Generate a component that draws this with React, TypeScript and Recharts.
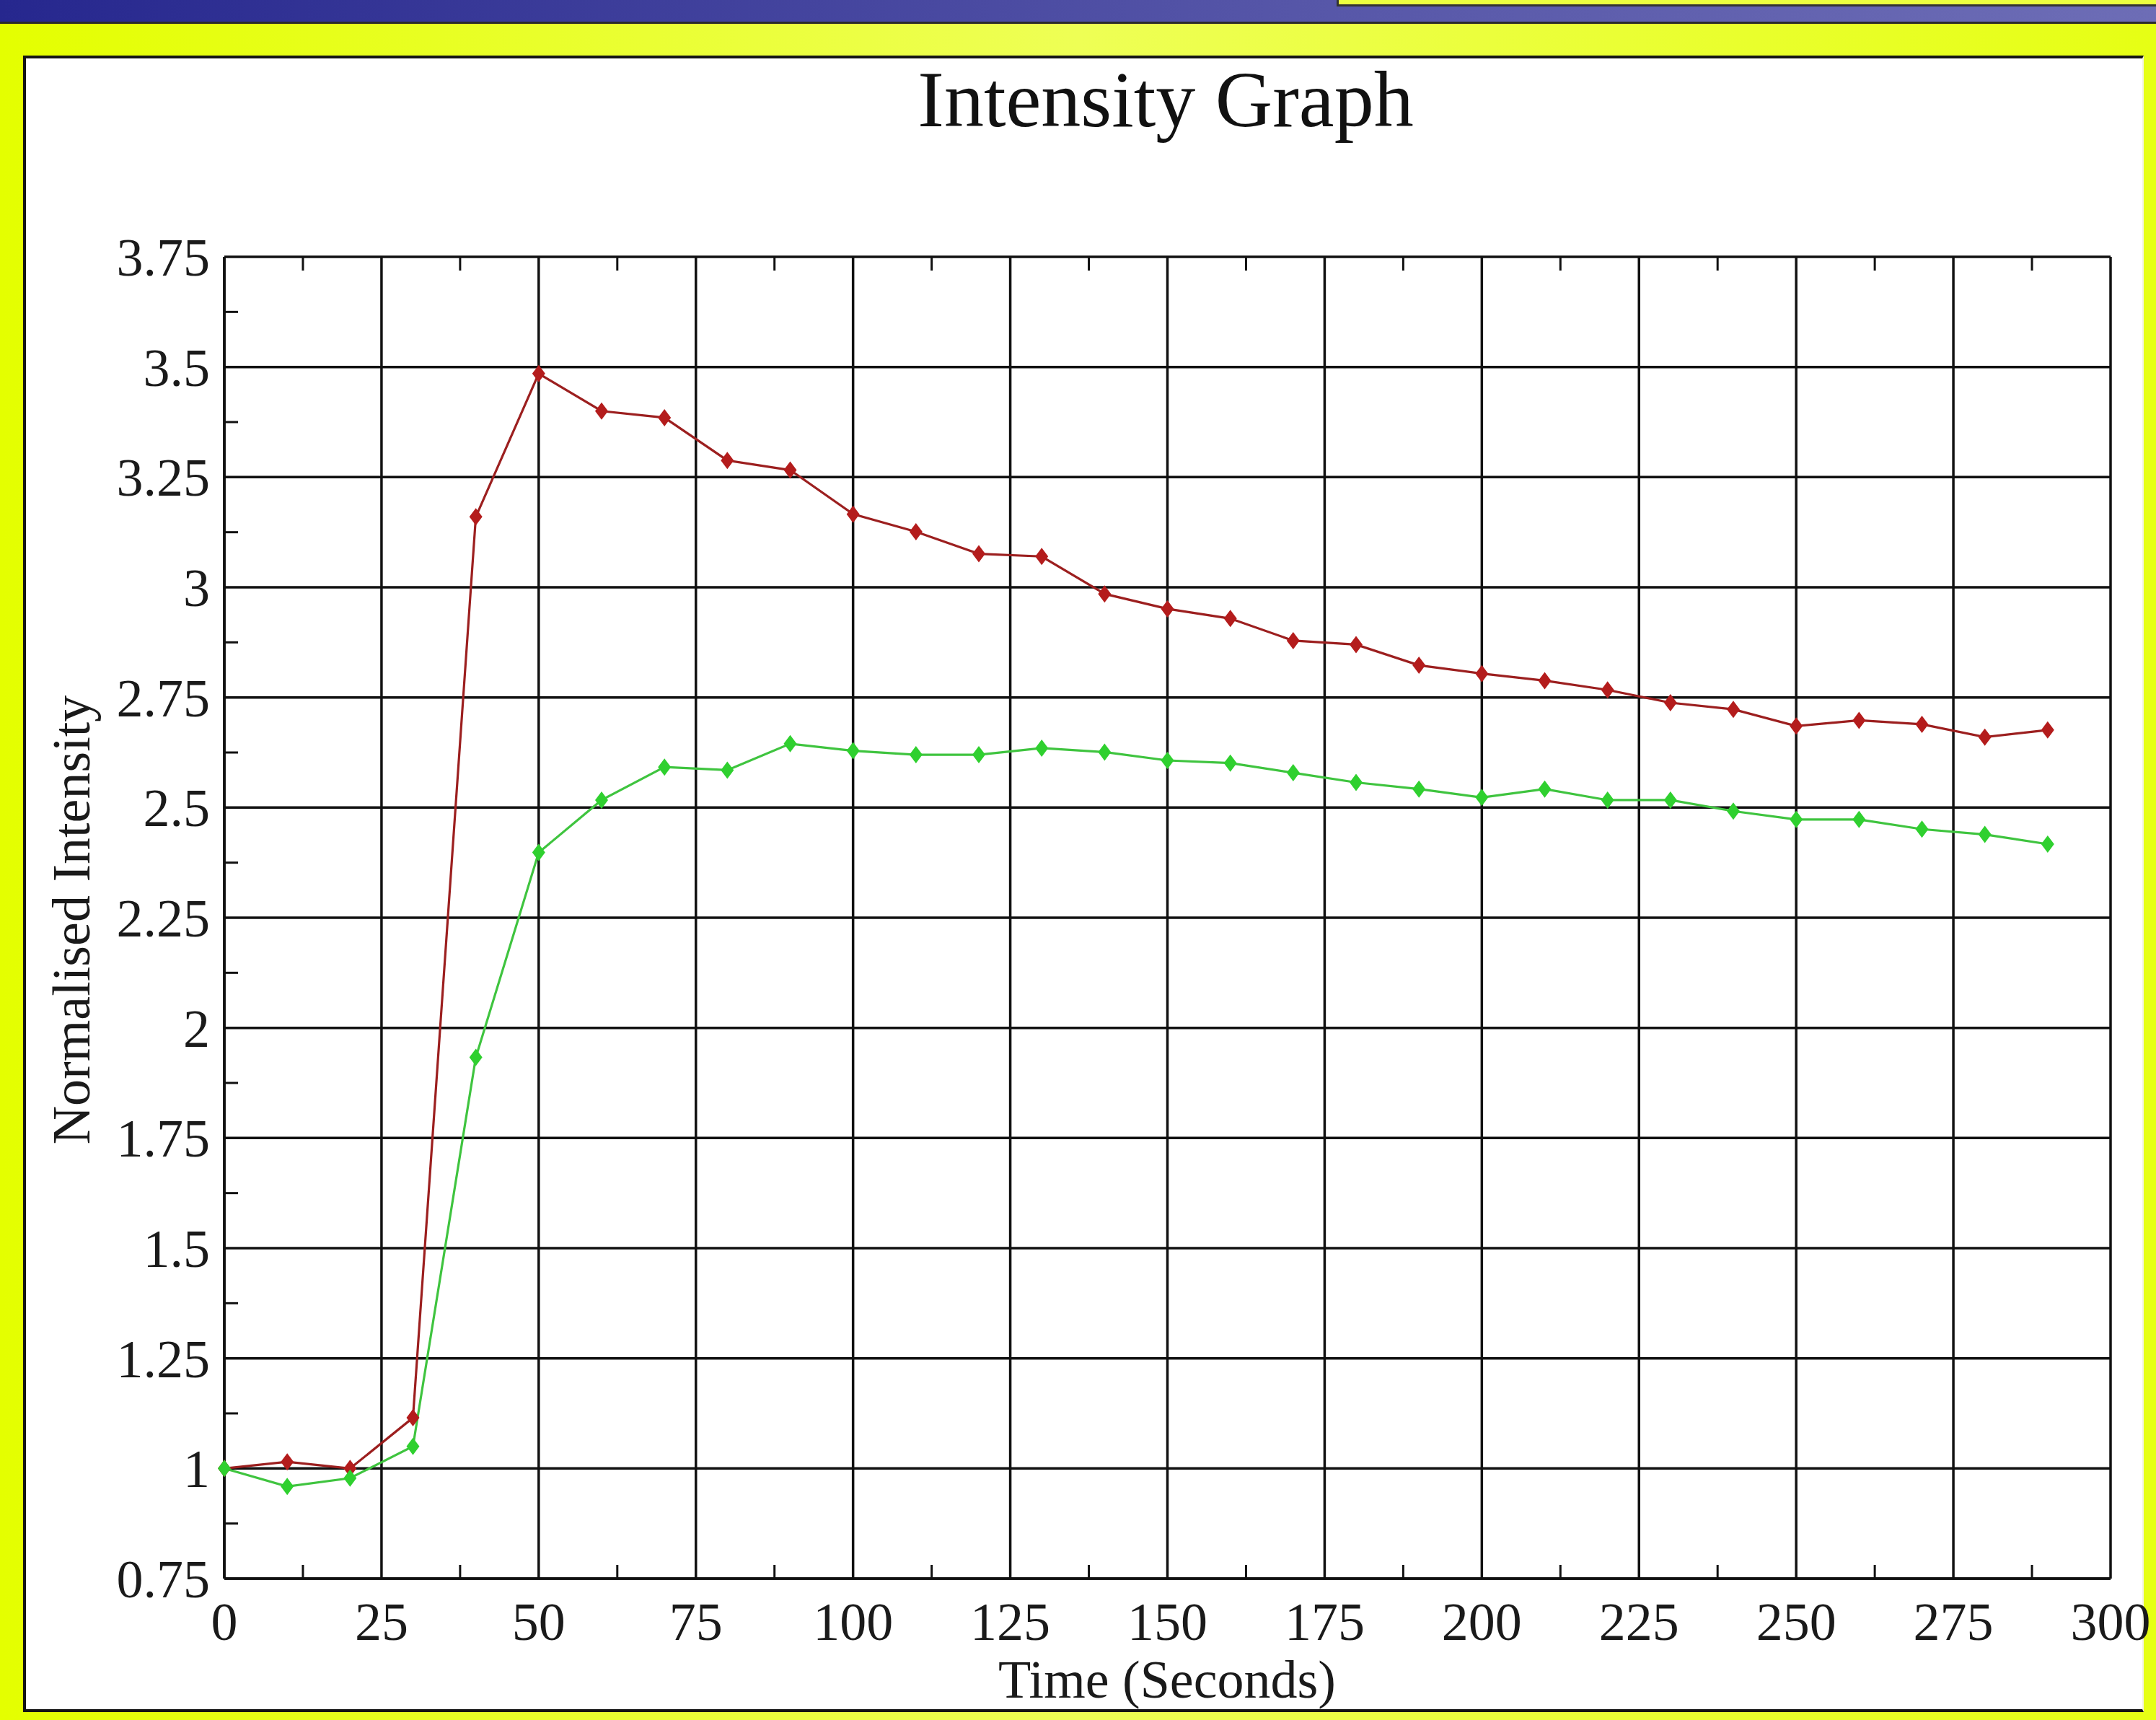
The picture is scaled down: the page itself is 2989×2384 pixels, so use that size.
import { CartesianGrid, Line, LineChart, XAxis, YAxis } from "recharts";

const times = [0, 10, 20, 30, 40, 50, 60, 70, 80, 90, 100, 110, 120, 130, 140, 150, 160, 170, 180, 190, 200, 210, 220, 230, 240, 250, 260, 270, 280, 290];
const redIntensity = [1.0, 1.015, 1.0, 1.115, 3.16, 3.485, 3.4, 3.385, 3.288, 3.266, 3.166, 3.126, 3.076, 3.07, 2.985, 2.951, 2.929, 2.879, 2.87, 2.823, 2.804, 2.788, 2.767, 2.738, 2.723, 2.685, 2.698, 2.689, 2.66, 2.676];
const greenIntensity = [1.0, 0.959, 0.978, 1.05, 1.933, 2.398, 2.517, 2.592, 2.585, 2.645, 2.629, 2.62, 2.62, 2.635, 2.626, 2.607, 2.601, 2.579, 2.557, 2.542, 2.523, 2.542, 2.517, 2.517, 2.492, 2.473, 2.473, 2.451, 2.439, 2.417];

const xMajor = [0, 25, 50, 75, 100, 125, 150, 175, 200, 225, 250, 275, 300];
const xMinor = [12.5, 37.5, 62.5, 87.5, 112.5, 137.5, 162.5, 187.5, 212.5, 237.5, 262.5, 287.5];
const yMajor = [0.75, 1, 1.25, 1.5, 1.75, 2, 2.25, 2.5, 2.75, 3, 3.25, 3.5, 3.75];
const yMinor = [0.875, 1.125, 1.375, 1.625, 1.875, 2.125, 2.375, 2.625, 2.875, 3.125, 3.375, 3.625];

const data = times.map((t, i) => ({ t, red: redIntensity[i], green: greenIntensity[i] }));

const serif = "'Liberation Serif', 'DejaVu Serif', serif";
const ink = "#111";
const minorLen = 19;

function BottomTick({ x, y, payload }: any) {
  if (xMajor.includes(payload.value)) {
    return (
      <text x={x} y={y + 85} textAnchor="middle" fontSize={74} fontFamily={serif} fill="#1a1a1a">
        {payload.value}
      </text>
    );
  }
  return <line x1={x} x2={x} y1={y} y2={y - minorLen} stroke={ink} strokeWidth={3} />;
}

function TopTick({ x, y }: any) {
  return <line x1={x} x2={x} y1={y} y2={y + minorLen} stroke={ink} strokeWidth={3} />;
}

function LeftTick({ x, y, payload }: any) {
  if (yMajor.includes(payload.value)) {
    return (
      <text x={x - 20} y={y + 26} textAnchor="end" fontSize={74} fontFamily={serif} fill="#1a1a1a">
        {String(payload.value)}
      </text>
    );
  }
  return <line x1={x} x2={x + minorLen} y1={y} y2={y} stroke={ink} strokeWidth={3} />;
}

function RightTick({ x, y }: any) {
  return <line x1={x} x2={x - minorLen} y1={y} y2={y} stroke={ink} strokeWidth={3} />;
}

function diamond(fill: string) {
  return (props: any) => {
    const { cx, cy, index } = props;
    if (cx == null || cy == null) return null;
    const w = 9;
    const h = 12;
    return (
      <polygon
        key={index}
        points={`${cx},${cy - h} ${cx + w},${cy} ${cx},${cy + h} ${cx - w},${cy}`}
        fill={fill}
      />
    );
  };
}

export default function App() {
  return (
    <div
      style={{
        position: "absolute",
        left: 0,
        top: 0,
        width: 2989,
        height: 2384,
        overflow: "hidden",
        background: "linear-gradient(to right, #e4ff00 0%, #eeff55 50%, #e6ff14 100%)",
        fontFamily: serif
      }}
    >
      {/* slide header bar */}
      <div
        style={{
          position: "absolute",
          left: 0,
          top: 0,
          width: 2989,
          height: 30,
          background: "linear-gradient(to right, #26278e, #5656a8 60%, #6d6db6)",
          borderBottom: "3px solid #2a2a2a"
        }}
      />
      <div
        style={{
          position: "absolute",
          left: 1853,
          top: 0,
          width: 1140,
          height: 6,
          background: "#ecff40",
          borderLeft: "3px solid #333",
          borderBottom: "3px solid #333"
        }}
      />

      {/* white panel */}
      <div
        style={{
          position: "absolute",
          left: 32,
          top: 77,
          width: 2940,
          height: 2296,
          boxSizing: "border-box",
          background: "#fff",
          borderTop: "4px solid #151515",
          borderLeft: "4px solid #151515",
          borderBottom: "4px solid #151515",
          borderRight: "2px solid #f4f4e0"
        }}
      />

      <div
        style={{
          position: "absolute",
          left: 1116,
          top: 83,
          width: 1000,
          textAlign: "center",
          fontSize: 110,
          lineHeight: 1,
          color: "#111"
        }}
      >
        Intensity Graph
      </div>

      <div
        style={{
          position: "absolute",
          left: 1118,
          top: 2291,
          width: 1000,
          textAlign: "center",
          fontSize: 74,
          lineHeight: 1,
          color: "#1a1a1a"
        }}
      >
        Time (Seconds)
      </div>

      <div
        style={{
          position: "absolute",
          left: 99 - 500,
          top: 1275 - 37,
          width: 1000,
          height: 74,
          textAlign: "center",
          fontSize: 74,
          lineHeight: "74px",
          color: "#1a1a1a",
          transform: "rotate(-90deg)"
        }}
      >
        Normalised Intensity
      </div>

      <div style={{ position: "absolute", left: 0, top: 0 }}>
        <LineChart
          width={2989}
          height={2384}
          data={data}
          margin={{ top: 355, right: 62, bottom: 46, left: 111 }}
        >
          <CartesianGrid stroke={ink} strokeWidth={3.5} verticalValues={xMajor} horizontalValues={yMajor} />
          <XAxis
            dataKey="t"
            type="number"
            domain={[0, 300]}
            ticks={[...xMajor, ...xMinor]}
            interval={0}
            tickSize={0}
            tickMargin={0}
            height={150}
            axisLine={{ stroke: ink, strokeWidth: 3.5 }}
            tickLine={false}
            tick={<BottomTick />}
          />
          <XAxis
            xAxisId="top"
            orientation="top"
            dataKey="t"
            type="number"
            domain={[0, 300]}
            ticks={xMinor}
            interval={0}
            tickSize={0}
            tickMargin={0}
            height={1}
            axisLine={false}
            tickLine={false}
            tick={<TopTick />}
          />
          <YAxis
            type="number"
            domain={[0.75, 3.75]}
            ticks={[...yMajor, ...yMinor]}
            interval={0}
            tickSize={0}
            tickMargin={0}
            width={200}
            axisLine={{ stroke: ink, strokeWidth: 3.5 }}
            tickLine={false}
            tick={<LeftTick />}
          />
          <YAxis
            yAxisId="right"
            orientation="right"
            type="number"
            domain={[0.75, 3.75]}
            ticks={yMinor}
            interval={0}
            tickSize={0}
            tickMargin={0}
            width={1}
            axisLine={false}
            tickLine={false}
            tick={<RightTick />}
          />
          <Line
            type="linear"
            dataKey="red"
            stroke="#9c1f1f"
            strokeWidth={3.2}
            dot={diamond("#b41c1c")}
            activeDot={false}
            isAnimationActive={false}
          />
          <Line
            type="linear"
            dataKey="green"
            stroke="#3fc43f"
            strokeWidth={3.2}
            dot={diamond("#2fd02f")}
            activeDot={false}
            isAnimationActive={false}
          />
        </LineChart>
      </div>
    </div>
  );
}
